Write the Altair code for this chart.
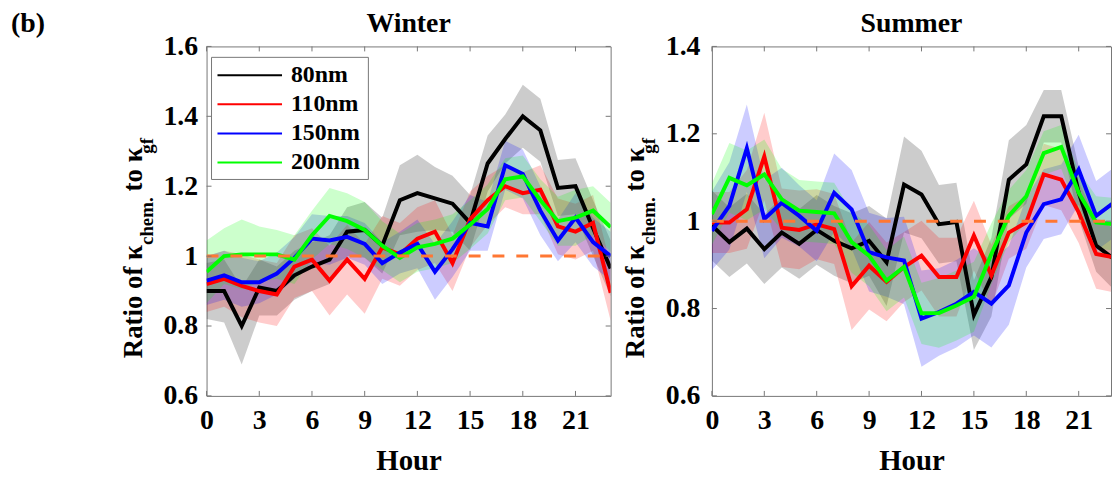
import altair as alt
import pandas as pd

FONT = "Liberation Serif"
FRAME = "#777777"

hours = list(range(24))
sizes = ["80nm", "110nm", "150nm", "200nm"]
colors = ["#000000", "#ff0000", "#0000ff", "#00ff00"]
x_ticks = [0, 3, 6, 9, 12, 15, 18, 21]
winter_y_ticks = [0.6, 0.8, 1.0, 1.2, 1.4, 1.6]
summer_y_ticks = [0.6, 0.8, 1.0, 1.2, 1.4]

# ---- Winter: mean ratio per hour ----
w_80 = [0.90, 0.90, 0.80, 0.91, 0.90, 0.945, 0.97, 0.99, 1.07, 1.075, 1.03, 1.16,
        1.18, 1.165, 1.15, 1.095, 1.265, 1.335, 1.40, 1.36, 1.195, 1.20, 1.08, 0.965]
w_110 = [0.92, 0.935, 0.915, 0.90, 0.89, 0.97, 0.99, 0.93, 0.99, 0.935, 1.025, 1.005,
         1.05, 1.07, 0.98, 1.105, 1.16, 1.20, 1.18, 1.19, 1.085, 1.07, 1.095, 0.895]
w_150 = [0.93, 0.945, 0.925, 0.925, 0.95, 0.995, 1.05, 1.045, 1.055, 1.035, 0.98, 1.01,
         1.035, 0.955, 1.02, 1.095, 1.085, 1.26, 1.235, 1.13, 1.045, 1.11, 1.04, 1.0]
w_200 = [0.955, 1.0, 1.005, 1.005, 1.005, 0.99, 1.06, 1.115, 1.10, 1.075, 1.03, 0.995,
         1.025, 1.035, 1.05, 1.09, 1.135, 1.22, 1.228, 1.16, 1.10, 1.11, 1.13, 1.083]
# ---- Winter: half-width of shaded band ----
w_80_sd = [0.08, 0.09, 0.11, 0.08, 0.07, 0.07, 0.07, 0.07, 0.07, 0.08, 0.08, 0.10,
           0.11, 0.09, 0.08, 0.08, 0.08, 0.07, 0.09, 0.09, 0.08, 0.08, 0.08, 0.08]
w_110_sd = [0.08, 0.08, 0.09, 0.09, 0.09, 0.09, 0.09, 0.10, 0.10, 0.10, 0.09, 0.09,
            0.09, 0.09, 0.08, 0.08, 0.07, 0.06, 0.06, 0.07, 0.08, 0.08, 0.08, 0.08]
w_150_sd = [0.07, 0.07, 0.07, 0.06, 0.06, 0.06, 0.07, 0.07, 0.06, 0.06, 0.06, 0.06,
            0.07, 0.08, 0.08, 0.08, 0.07, 0.07, 0.07, 0.07, 0.06, 0.07, 0.07, 0.07]
w_200_sd = [0.09, 0.08, 0.10, 0.08, 0.07, 0.07, 0.07, 0.08, 0.08, 0.08, 0.07, 0.07,
            0.07, 0.07, 0.07, 0.07, 0.07, 0.06, 0.06, 0.06, 0.07, 0.08, 0.07, 0.07]

# ---- Summer: mean ratio per hour ----
s_80 = [0.99, 0.952, 0.983, 0.936, 0.974, 0.948, 0.98, 0.955, 0.938, 0.955, 0.906, 1.084,
        1.061, 0.993, 0.998, 0.785, 0.872, 1.095, 1.13, 1.24, 1.24, 1.065, 0.944, 0.914]
s_110 = [0.997, 0.997, 1.027, 1.148, 0.985, 0.98, 0.993, 0.982, 0.851, 0.898, 0.861, 0.895,
         0.921, 0.872, 0.872, 0.967, 0.876, 0.974, 0.997, 1.107, 1.095, 1.02, 0.925, 0.917]
s_150 = [0.978, 1.035, 1.167, 1.005, 1.042, 1.012, 0.978, 1.065, 1.027, 0.929, 0.917, 0.91,
         0.777, 0.792, 0.811, 0.838, 0.811, 0.853, 0.974, 1.039, 1.05, 1.118, 1.012, 1.042]
s_200 = [1.016, 1.099, 1.082, 1.107, 1.05, 1.024, 1.021, 1.018, 0.952, 0.921, 0.864, 0.895,
         0.789, 0.79, 0.807, 0.827, 0.925, 1.012, 1.057, 1.156, 1.17, 1.065, 0.997, 0.993]
# ---- Summer: half-width of shaded band ----
s_80_sd = [0.08, 0.08, 0.08, 0.08, 0.08, 0.08, 0.08, 0.08, 0.08, 0.08, 0.10, 0.11,
           0.10, 0.09, 0.09, 0.08, 0.09, 0.09, 0.09, 0.06, 0.06, 0.06, 0.06, 0.07]
s_110_sd = [0.07, 0.07, 0.09, 0.10, 0.09, 0.09, 0.08, 0.08, 0.10, 0.10, 0.09, 0.08,
            0.08, 0.09, 0.09, 0.08, 0.07, 0.06, 0.06, 0.07, 0.07, 0.07, 0.08, 0.08]
s_150_sd = [0.09, 0.10, 0.10, 0.09, 0.08, 0.07, 0.07, 0.09, 0.09, 0.09, 0.09, 0.10,
            0.11, 0.10, 0.10, 0.10, 0.10, 0.09, 0.08, 0.08, 0.08, 0.08, 0.08, 0.08]
s_200_sd = [0.07, 0.08, 0.08, 0.08, 0.07, 0.07, 0.07, 0.07, 0.07, 0.07, 0.07, 0.07,
            0.07, 0.08, 0.08, 0.08, 0.07, 0.06, 0.06, 0.05, 0.05, 0.05, 0.06, 0.06]


def long_df(means, spreads):
    rows = []
    for s, m, sp in zip(sizes, means, spreads):
        for h, v, d in zip(hours, m, sp):
            rows.append({"hour": h, "value": v, "lo": v - d, "hi": v + d,
                         "size": s, "band": s})
    return pd.DataFrame(rows)


winter_df = long_df([w_80, w_110, w_150, w_200], [w_80_sd, w_110_sd, w_150_sd, w_200_sd])
summer_df = long_df([s_80, s_110, s_150, s_200], [s_80_sd, s_110_sd, s_150_sd, s_200_sd])

one = pd.DataFrame({"k": [0]})


def txt(s, dx, dy, size, angle=0, align="left", baseline="alphabetic"):
    kw = dict(text=s, font=FONT, fontSize=size, fontWeight="bold", align=align,
              baseline=baseline, color="black")
    if angle:
        kw["angle"] = angle
    return alt.Chart(one).mark_text(**kw).encode(x=alt.value(dx), y=alt.value(dy))


def legend_layers():
    # legend box with one entry per size class (drawn inside the Winter panel)
    box = alt.Chart(one).mark_rect(fill="white", stroke=FRAME, strokeWidth=1).encode(
        x=alt.value(5), x2=alt.value(163), y=alt.value(11), y2=alt.value(134))
    out = [box]
    for i, (s, c) in enumerate(zip(sizes, colors)):
        yy = 29 + 29.3 * i
        out.append(alt.Chart(one).mark_rule(color=c, strokeWidth=2).encode(
            x=alt.value(11), x2=alt.value(76), y=alt.value(yy)))
        out.append(txt(s, 85, yy, 24, baseline="middle"))
    return out


def panel(df, title, width, xmax, ydom, yticks, show_legend, label_pad, main_dx, sub_dx, extra=None):
    height = 352
    xs = alt.Scale(domain=[0, xmax], nice=False, zero=False)
    ys = alt.Scale(domain=ydom, nice=False, zero=False)
    xa = alt.Axis(values=x_ticks, title="Hour", labelPadding=11, titlePadding=12,
                  titleFont=FONT, titleFontSize=29, titleFontWeight="bold", titleColor="black",
                  labelFlush=False, labelOverlap=False)
    ya = alt.Axis(values=yticks, format="~g", title=None, labelPadding=label_pad,
                  labelFlush=False, labelOverlap=False)
    cs = alt.Scale(domain=sizes, range=colors)

    def X(f):
        return alt.X(f, scale=xs, axis=xa)

    def Y(f):
        return alt.Y(f, scale=ys, axis=ya)

    bands = alt.Chart(df).mark_area(fillOpacity=0.2, clip=True).encode(
        x=X("hour:Q"), y=Y("lo:Q"), y2="hi:Q",
        fill=alt.Fill("band:N", scale=cs, legend=None, sort=sizes))
    lines = alt.Chart(df).mark_line(strokeWidth=4, clip=True).encode(
        x=X("hour:Q"), y=Y("value:Q"),
        color=alt.Color("size:N", scale=cs, legend=None, sort=sizes))
    ref = alt.Chart(pd.DataFrame({"hour": [0, 23], "value": [1.0, 1.0]})).mark_line(
        color="#ff7733", strokeWidth=3, strokeDash=[12, 12], clip=True).encode(
        x=X("hour:Q"), y=Y("value:Q"))

    xt = pd.DataFrame({"t": x_ticks})
    yt = pd.DataFrame({"t": yticks})
    tick = dict(color=FRAME, strokeWidth=1)
    xb = alt.Chart(xt).mark_rule(**tick).encode(x=X("t:Q"), y=alt.value(height), y2=alt.value(height - 5))
    xtp = alt.Chart(xt).mark_rule(**tick).encode(x=X("t:Q"), y=alt.value(0), y2=alt.value(5))
    yl = alt.Chart(yt).mark_rule(**tick).encode(y=Y("t:Q"), x=alt.value(0), x2=alt.value(5))
    yr = alt.Chart(yt).mark_rule(**tick).encode(y=Y("t:Q"), x=alt.value(width), x2=alt.value(width - 5))

    texts = [
        txt(title, width / 2, -15, 28, align="center"),
        txt("Ratio of κ", main_dx, 314, 27, angle=270),
        txt("chem.", sub_dx, 200, 19, angle=270),
        txt("to κ", main_dx, 146, 27, angle=270),
        txt("gf", sub_dx, 108, 19, angle=270),
    ]
    if extra is not None:
        texts.append(extra)

    layers = [bands, lines, ref, xb, xtp, yl, yr] + texts
    if show_legend:
        layers += legend_layers()
    return alt.layer(*layers).properties(width=width, height=height)


winter = panel(winter_df, "Winter", 407, 23, [0.6, 1.6], winter_y_ticks, True, 9, -65, -54,
               extra=txt("(b)", -197, -15, 28))
summer = panel(summer_df, "Summer", 402, 22.85, [0.6, 1.4], summer_y_ticks, False, 12, -68, -57)

chart = alt.hconcat(winter, summer, spacing=102, bounds="flush").resolve_scale(
    color="independent", fill="independent", x="independent", y="independent"
).properties(
    padding={"left": 2, "top": -1, "right": 0, "bottom": 2}
).configure_view(
    stroke=FRAME, strokeWidth=1
).configure_axis(
    labelFont=FONT, labelFontSize=28, labelFontWeight="bold", labelColor="black",
    ticks=False, domain=False, grid=False
)

chart.save("out.html", embed_options={"renderer": "svg", "actions": False})
